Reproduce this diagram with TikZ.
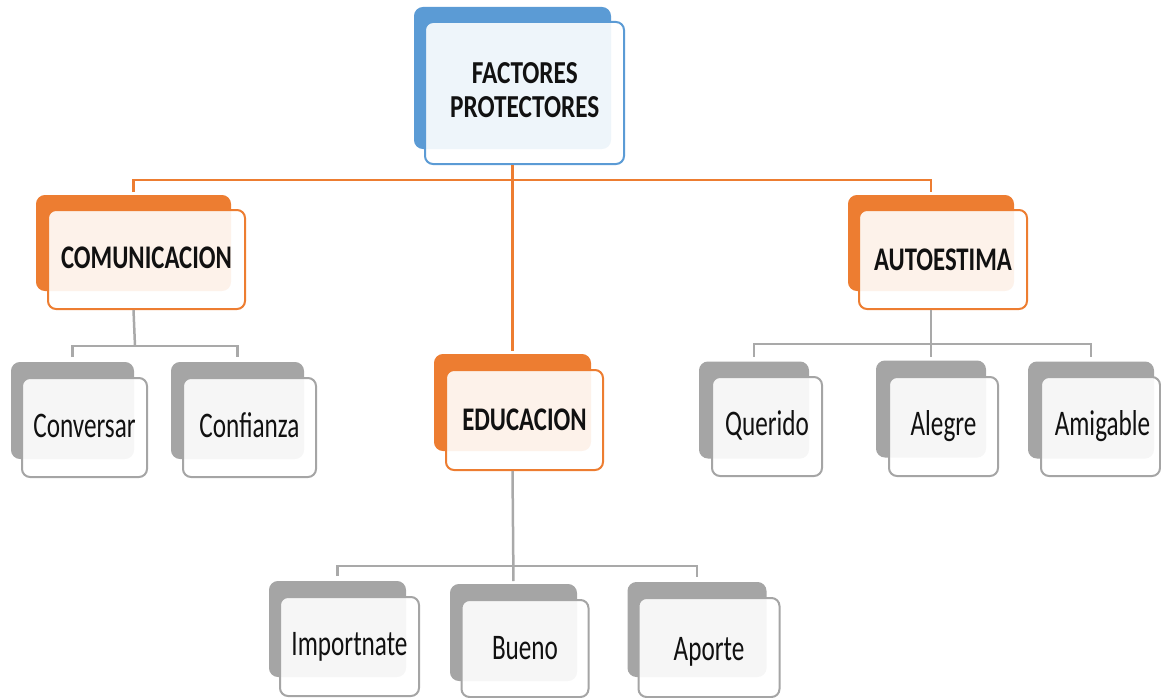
\documentclass[tikz,border=0pt]{standalone}
\usepackage{fontspec}
\setmainfont{Carlito}
\newfontfamily\topfont{Carlito}[FakeStretch=0.79]
\newfontfamily\midfont{Carlito}[FakeStretch=0.75]
\newfontfamily\leaffont{Carlito}[FakeStretch=0.70]
\definecolor{cblue}{HTML}{5B9BD5}
\definecolor{corange}{HTML}{ED7D31}
\definecolor{cgray}{HTML}{A5A5A5}
\definecolor{cline}{HTML}{A9A9A9}
\definecolor{ctext}{HTML}{111111}
\tikzset{
  box/.style={rectangle, rounded corners=8pt, inner sep=0pt, line width=2pt, align=center, text=ctext},
  backbox/.style={box, fill=#1, draw=#1},
  frontbox/.style={box, draw=#1, fill=white, fill opacity=0.9, text opacity=1},
  toptext/.style={align=center, text=ctext, inner sep=0pt, font=\topfont\bfseries\fontsize{32}{34}\selectfont},
  midtext/.style={font=\midfont\bfseries\fontsize{33}{38}\selectfont, text depth=0pt, text height=19pt},
  leaftext/.style={font=\leaffont\fontsize{36}{40}\selectfont, text depth=0pt, text height=19pt},
  oline/.style={draw=corange, line width=2.5pt},
  gline/.style={draw=cline, line width=2.5pt},
}
\begin{document}
\begin{tikzpicture}[x=1pt,y=-1pt]
\useasboundingbox (0,0) rectangle (1161,698);
% top
\node[backbox=cblue, minimum width=195pt, minimum height=140pt] (topb) at (512.5,78) {};
\node[frontbox=cblue, minimum width=199pt, minimum height=142pt] (topf) at (524.5,93) {};
\node[toptext] (topt) at (524.8,89.7) {FACTORES\\PROTECTORES};
% level 2
\node[backbox=corange, minimum width=193pt, minimum height=94pt] (comb) at (133.5,243) {};
\node[frontbox=corange, minimum width=197pt, minimum height=99pt, midtext, text height=17.6pt] (comf) at (146.5,259.5) {COMUNICACION};
\node[backbox=corange, minimum width=155pt, minimum height=95pt] (edub) at (512.5,402.5) {};
\node[frontbox=corange, minimum width=157pt, minimum height=100pt, midtext, text height=20pt] (eduf) at (524.5,420) {EDUCACION};
\node[backbox=corange, minimum width=164pt, minimum height=94pt] (autb) at (931,243) {};
\node[frontbox=corange, minimum width=168pt, minimum height=99pt, midtext, text height=21pt] (autf) at (943,259.5) {AUTOESTIMA};
% leaves under COMUNICACION
\node[backbox=cgray, minimum width=121pt, minimum height=95pt] (conb) at (72.5,410.5) {};
\node[frontbox=cgray, minimum width=125pt, minimum height=99pt, leaftext, text height=20.4pt] (conf) at (84.5,427.5) {Conversar};
\node[backbox=cgray, minimum width=131pt, minimum height=95pt] (cofb) at (237.5,410.5) {};
\node[frontbox=cgray, minimum width=133pt, minimum height=99pt, leaftext, text height=20.4pt] (coff) at (249.5,427.5) {Confianza};
% leaves under AUTOESTIMA
\node[backbox=cgray, minimum width=108pt, minimum height=95pt] (qub) at (754,410) {};
\node[frontbox=cgray, minimum width=110pt, minimum height=99pt, leaftext, text height=17pt] (quf) at (767,426.5) {Querido};
\node[backbox=cgray, minimum width=108pt, minimum height=95pt] (alb) at (931,409) {};
\node[frontbox=cgray, minimum width=109pt, minimum height=99pt, leaftext, text height=17pt] (alf) at (943.5,426.5) {Alegre};
\node[backbox=cgray, minimum width=124pt, minimum height=95pt] (amb) at (1091,410) {};
\node[frontbox=cgray, minimum width=119pt, minimum height=99pt, leaftext, text height=17pt] (amf) at (1100.5,426.5) {\hspace*{4pt}Amigable};
% leaves under EDUCACION
\node[backbox=cgray, minimum width=135pt, minimum height=94pt] (imb) at (337.5,629) {};
\node[frontbox=cgray, minimum width=139pt, minimum height=99pt, leaftext, text height=17pt] (imf) at (349.5,646.5) {Importnate};
\node[backbox=cgray, minimum width=125pt, minimum height=95pt] (bub) at (513.5,632.5) {};
\node[frontbox=cgray, minimum width=127pt, minimum height=97pt, leaftext, text height=21.6pt] (buf) at (525,648.5) {Bueno};
\node[backbox=cgray, minimum width=137pt, minimum height=93pt] (apb) at (697,629.5) {};
\node[frontbox=cgray, minimum width=141pt, minimum height=99pt, leaftext, text height=25pt] (apf) at (709,647.5) {Aporte};
% connectors
\coordinate (bus1) at (512.5,180);
\coordinate (bus2) at (135,346);
\coordinate (bus3) at (932,344);
\coordinate (bus4) at (512.5,566);
\draw[oline, shorten >=3pt] (topb.center |- topf.south) -- (edub.north);
\draw[oline, shorten <=3pt, shorten >=3pt] (comb.north) |- (bus1) -| (autb.north);
\draw[gline] (comb.center |- comf.south) -- (bus2);
\draw[gline, shorten <=5pt, shorten >=5pt] (conb.north) |- (bus2) -| (cofb.north);
\draw[gline, shorten >=4pt] (autb.center |- autf.south) -- (alb.north);
\draw[gline, shorten <=5pt, shorten >=5pt] (qub.north) |- (bus3) -| (amb.north);
\draw[gline, shorten >=3pt] (edub.center |- eduf.south) -- (bub.north);
\draw[gline, shorten <=5pt, shorten >=5pt] (imb.north) |- (bus4) -| (apb.north);
\end{tikzpicture}
\end{document}
